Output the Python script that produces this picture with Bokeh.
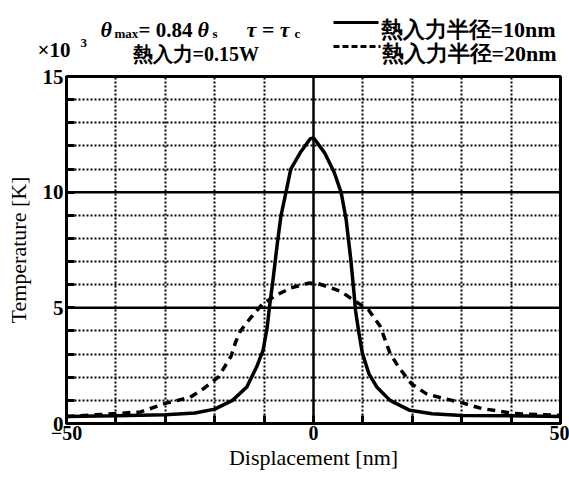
from bokeh.plotting import figure
from bokeh.models import FixedTicker, Span
from bokeh.layouts import column
from bokeh.core.properties import value
from bokeh.embed import file_html
from bokeh.resources import INLINE

# Data
x10 = [-50, -40, -30, -24, -20, -16.4, -13.5, -11.5, -10.2, -9.35, -8.9, -8.2, -7.4, -6.6, -5.6, -4.6,
       -2.7, -0.7, 0, 2.25, 4.2, 5.6, 6.6, 7.55, 8.2, 8.5, 9.2, 9.9, 11.2, 12.8, 15.5, 19.5, 24, 30, 40, 50]
t10 = [0.3, 0.33, 0.38, 0.45, 0.62, 1.0, 1.58, 2.45, 3.17, 4.2, 5.06, 6.2, 7.65, 8.96, 9.97, 11.0,
       11.7, 12.3, 12.35, 11.7, 10.85, 9.98, 8.83, 7.09, 5.64, 4.9, 3.9, 3.03, 2.16, 1.58, 1.0, 0.57, 0.42, 0.35, 0.33, 0.3]

x20 = [-50, -40, -35, -30, -25, -22.3, -19.3, -16.7, -15.8, -14.8, -12.8, -10.2, -7.3, -4.6, -1.0, 0.9,
       3.6, 5.6, 7.5, 11.2, 13.5, 15.5, 17.2, 19.8, 22.8, 26, 30, 34, 40.7, 50]
t20 = [0.3, 0.43, 0.5, 0.87, 1.13, 1.5, 2.0, 2.9, 3.5, 4.0, 4.55, 5.2, 5.57, 5.86, 6.07, 6.05,
       5.86, 5.7, 5.42, 4.9, 4.2, 3.03, 2.45, 1.72, 1.29, 1.1, 0.9, 0.65, 0.43, 0.35]

x_labels = [-50, 0, 50]
x_minor = [-40, -30, -20, -10, 10, 20, 30, 40]
y_labels = [0, 5, 10, 15]
y_minor = [1, 2, 3, 4, 6, 7, 8, 9, 11, 12, 13, 14]
solid_y = [5, 10]
solid_x = [0]

legend_labels = ["熱入力半径=10nm", "熱入力半径=20nm"]
condition_text = "熱入力=0.15W"

W, H = 569, 477
HEAD = 66
L, R, T, B = 66, 560, 76, 423
SERIF = "Liberation Serif"

# ---------- header strip ----------
top = figure(width=W, height=HEAD, x_range=(0, W), y_range=(HEAD, 0),
             output_backend="svg", toolbar_location=None, frame_align=False,
             x_axis_location=None, y_axis_location=None,
             min_border_left=0, min_border_right=0, min_border_top=0, min_border_bottom=0)
top.outline_line_color = None
top.xgrid.visible = False
top.ygrid.visible = False
top.background_fill_color = "white"
top.border_fill_color = "white"

def lab(text, px, py, size=20, style="bold"):
    top.text(x=[px], y=[py], text=[text], text_font=value(SERIF),
             text_font_size=value(f"{size}px"), text_font_style=value(style),
             text_color="black", text_baseline="alphabetic", text_align="left")

# line 1
lab("θ", 100, 29, 22, "bold italic")
lab("max", 114, 33, 13)
lab("= 0.84", 138, 29, 21)
lab("θ", 197, 29, 22, "bold italic")
lab("s", 212, 33, 13)
lab("τ = τ", 246, 29, 22, "bold italic")
lab("c", 294, 33, 13)
lab(legend_labels[0], 380, 29, 22)
# line 2
lab("×10", 37, 49, 21)
lab("3", 80, 42, 13)
lab(condition_text, 132, 53, 20)
lab(legend_labels[1], 381, 53, 22)
# legend line samples
top.segment(x0=[333], y0=[22], x1=[378], y1=[22], line_color="black", line_width=3)
top.segment(x0=[333], y0=[46], x1=[380], y1=[46], line_color="black", line_width=3, line_dash="6 3")

# ---------- main plot ----------
p = figure(width=W, height=H - HEAD, x_range=(-50, 50), y_range=(0, 15),
           output_backend="svg", toolbar_location=None, frame_align=False,
           min_border_left=L, min_border_right=W - R, min_border_top=T - HEAD, min_border_bottom=H - B)
p.background_fill_color = "white"
p.border_fill_color = "white"
p.outline_line_color = "black"
p.outline_line_width = 3

p.xaxis.ticker = FixedTicker(ticks=x_labels, minor_ticks=x_minor)
p.yaxis.ticker = FixedTicker(ticks=y_labels, minor_ticks=y_minor)
for ax in (p.xaxis[0], p.yaxis[0]):
    ax.axis_line_color = "black"
    ax.axis_line_width = 3
    ax.major_tick_in = 8
    ax.major_tick_out = 0
    ax.minor_tick_in = 8
    ax.minor_tick_out = 0
    ax.major_tick_line_width = 3
    ax.minor_tick_line_width = 3
    ax.major_label_text_font = SERIF
    ax.major_label_text_font_size = "21px"
    ax.major_label_text_font_style = "bold"
    ax.major_label_text_color = "black"
    ax.axis_label_text_font = SERIF
    ax.axis_label_text_font_size = "22px"
    ax.axis_label_text_font_style = "normal"
    ax.axis_label_text_color = "black"
p.xaxis.axis_label = "Displacement [nm]"
p.yaxis.axis_label = "Temperature [K]"
p.xaxis.major_label_text_font_size = "20px"
p.xaxis.major_label_standoff = 2
p.xaxis.axis_label_standoff = 2
p.yaxis.major_label_standoff = 3
p.yaxis.axis_label_standoff = 9

p.xgrid.ticker = FixedTicker(ticks=x_minor)
p.ygrid.ticker = FixedTicker(ticks=y_minor)
for g in (p.xgrid[0], p.ygrid[0]):
    g.grid_line_color = "black"
    g.grid_line_width = 2
    g.grid_line_dash = "2 2"

for v in solid_y:
    p.add_layout(Span(location=v, dimension="width", line_color="black", line_width=2.5))
for v in solid_x:
    p.add_layout(Span(location=v, dimension="height", line_color="black", line_width=2.5))

p.line(x10, t10, line_color="black", line_width=3.5)
p.line(x20, t20, line_color="black", line_width=3.5, line_dash="8 6")

layout = column(top, p, spacing=0)
open("out.html", "w").write(file_html(layout, INLINE))
